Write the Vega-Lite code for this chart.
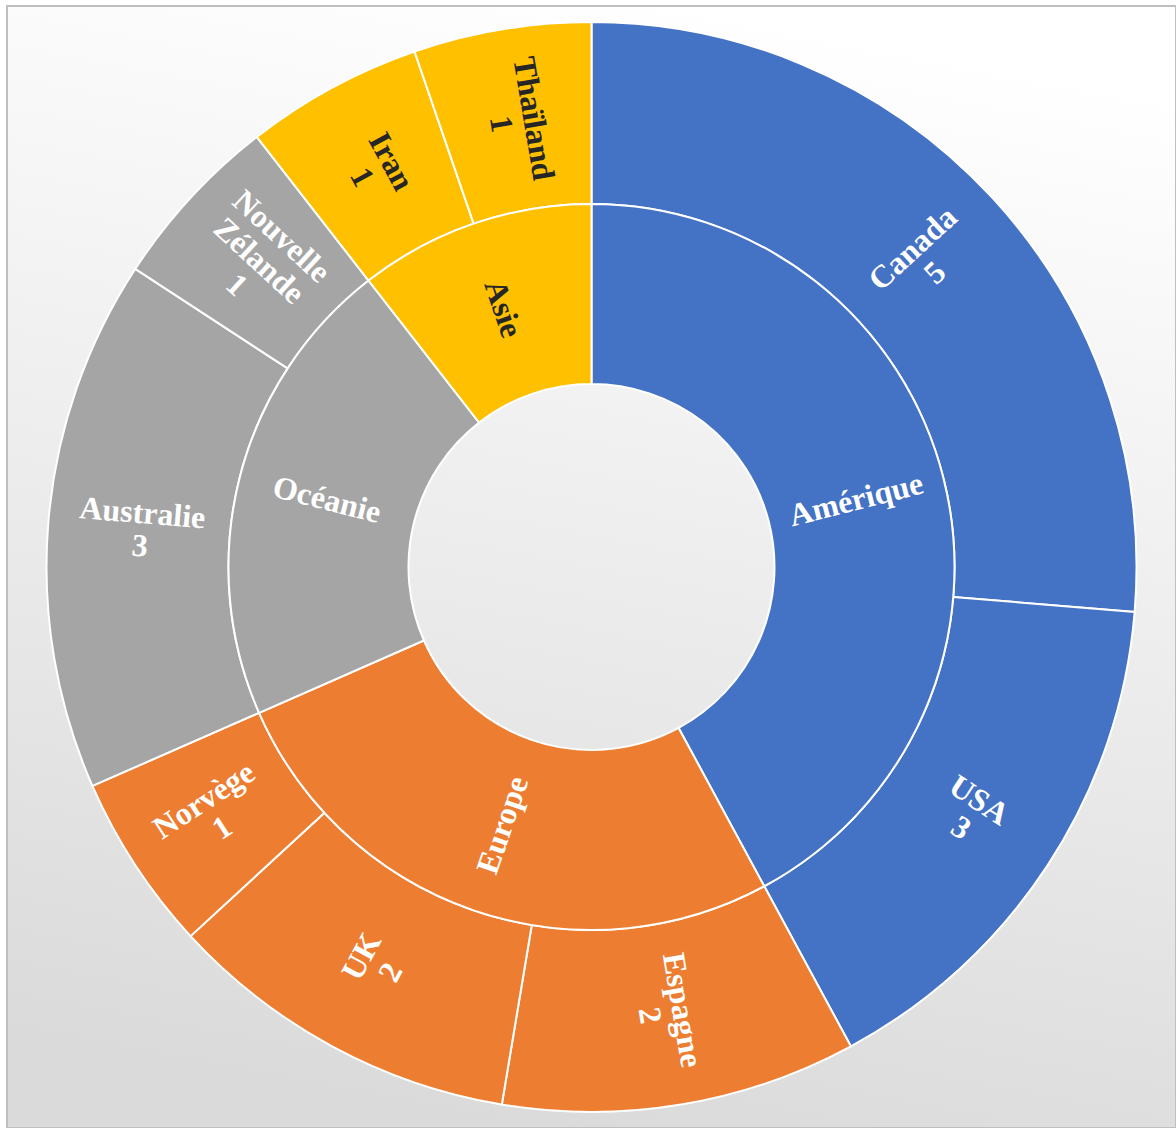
{
  "$schema": "https://vega.github.io/schema/vega-lite/v6.json",
  "autosize": {"type": "fit", "contains": "padding"},
  "width": 1176,
  "height": 1128,
  "padding": {"left": 7, "top": 6, "right": 0, "bottom": 0},
  "background": "white",
  "view": {
    "fill": {"gradient": "linear", "x1": 0.6, "y1": 0, "x2": 0.4, "y2": 1,
      "stops": [{"offset": 0, "color": "#ffffff"}, {"offset": 1, "color": "#dadada"}]},
    "stroke": "#bfbfbf",
    "strokeWidth": 2
  },
  "data": {"values": [
    {"continent": "Amérique", "country": "Canada", "value": 5, "idx": 1},
    {"continent": "Amérique", "country": "USA", "value": 3, "idx": 2},
    {"continent": "Europe", "country": "Espagne", "value": 2, "idx": 3},
    {"continent": "Europe", "country": "UK", "value": 2, "idx": 4},
    {"continent": "Europe", "country": "Norvège", "value": 1, "idx": 5},
    {"continent": "Océanie", "country": "Australie", "value": 3, "idx": 6},
    {"continent": "Océanie", "country": "Nouvelle Zélande", "value": 1, "idx": 7},
    {"continent": "Asie", "country": "Iran", "value": 1, "idx": 8},
    {"continent": "Asie", "country": "Thaïland", "value": 1, "idx": 9}
  ]},
  "layer": [
    {
      "mark": {"type": "arc", "radius": 363, "radius2": 545, "stroke": "white", "strokeWidth": 2},
      "encoding": {
        "theta": {"field": "value", "type": "quantitative", "stack": true},
        "order": {"field": "idx", "type": "quantitative"},
        "color": {"field": "continent", "type": "nominal", "legend": null,
          "scale": {"domain": ["Amérique", "Europe", "Océanie", "Asie"], "range": ["#4472C4", "#ED7D31", "#A5A5A5", "#FFC000"]}}
      }
    },
    {
      "transform": [
        {"aggregate": [{"op": "sum", "field": "value", "as": "value"}, {"op": "min", "field": "idx", "as": "idx"}], "groupby": ["continent"]}
      ],
      "mark": {"type": "arc", "radius": 183, "radius2": 363, "stroke": "white", "strokeWidth": 2},
      "encoding": {
        "theta": {"field": "value", "type": "quantitative", "stack": true},
        "order": {"field": "idx", "type": "quantitative"},
        "color": {"field": "continent", "type": "nominal", "legend": null}
      }
    },
    {
      "transform": [
        {"joinaggregate": [{"op": "sum", "field": "value", "as": "total"}]},
        {"window": [{"op": "sum", "field": "value", "as": "cum"}], "sort": [{"field": "idx"}], "frame": [null, 0]},
        {"calculate": "(datum.cum - datum.value / 2) / datum.total * 360 - 90", "as": "r0"},
        {"calculate": "datum.r0 > 90 ? datum.r0 - 180 : datum.r0", "as": "rot"},
        {"calculate": "replace(datum.country, ' ', '|') + '|' + datum.value", "as": "label"},
        {"calculate": "indexof(datum.country, ' ') >= 0 ? 3 : 2", "as": "nlines"}
      ],
      "mark": {"type": "text", "radius": 452, "font": "Liberation Serif", "fontWeight": "bold", "fontSize": 32, "lineBreak": "|", "lineHeight": 33, "align": "center", "baseline": "middle", "dy": {"expr": "-(datum.nlines - 1) * 16.5"}},
      "encoding": {
        "theta": {"field": "value", "type": "quantitative", "stack": true},
        "order": {"field": "idx", "type": "quantitative"},
        "text": {"field": "label"},
        "angle": {"field": "rot", "type": "quantitative", "scale": null},
        "color": {"condition": {"test": "datum.continent === 'Asie'", "value": "#262626"}, "value": "white"}
      }
    },
    {
      "transform": [
        {"aggregate": [{"op": "sum", "field": "value", "as": "value"}, {"op": "min", "field": "idx", "as": "idx"}], "groupby": ["continent"]},
        {"joinaggregate": [{"op": "sum", "field": "value", "as": "total"}]},
        {"window": [{"op": "sum", "field": "value", "as": "cum"}], "sort": [{"field": "idx"}], "frame": [null, 0]},
        {"calculate": "(datum.cum - datum.value / 2) / datum.total * 360 - 90", "as": "r0"},
        {"calculate": "datum.r0 > 90 ? datum.r0 - 180 : datum.r0", "as": "rot"}
      ],
      "mark": {"type": "text", "radius": 273, "font": "Liberation Serif", "fontWeight": "bold", "fontSize": 32, "align": "center", "baseline": "middle"},
      "encoding": {
        "theta": {"field": "value", "type": "quantitative", "stack": true},
        "order": {"field": "idx", "type": "quantitative"},
        "text": {"field": "continent"},
        "angle": {"field": "rot", "type": "quantitative", "scale": null},
        "color": {"condition": {"test": "datum.continent === 'Asie'", "value": "#262626"}, "value": "white"}
      }
    }
  ]
}
